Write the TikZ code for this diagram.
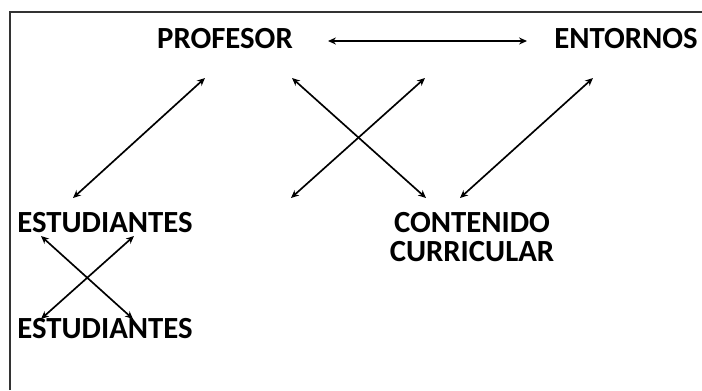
\documentclass[tikz,border=0pt]{standalone}
\usepackage{fontspec}
\setmainfont{Carlito}
\usetikzlibrary{arrows.meta, positioning}
\tikzset{
	actor/.style={font=\fontsize{17.5}{16}\selectfont\bfseries, inner sep=0pt, align=center},
	link/.style={{Stealth[length=4.5pt,width=4pt]}-{Stealth[length=4.5pt,width=4pt]}, line width=0.95pt}
}

\begin{document}
\begin{tikzpicture}[x=0.02cm, y=-0.02cm]
	\useasboundingbox (0,0) rectangle (702,390);
	\draw[line width=1.1pt, black!80] (10,390) -- (10,12) -- (702,12);
	% actors
	\node[actor] (prof) at (225,39) {PROFESOR};
	\node[actor] (ent) at (626,39) {ENTORNOS};
	\node[actor] (est1) at (105,223) {ESTUDIANTES};
	\node[actor] (cont) at (472,237) {CONTENIDO\\CURRICULAR};
	\node[actor] (est2) at (105,329) {ESTUDIANTES};
	% arrow ends
	\coordinate (a1) at (328,41); \coordinate (a2) at (527,41);
	\coordinate (b1) at (205,78); \coordinate (b2) at (73,198);
	\coordinate (c1) at (292,78); \coordinate (c2) at (426,198);
	\coordinate (d1) at (425,78); \coordinate (d2) at (291,198);
	\coordinate (e1) at (593,78); \coordinate (e2) at (460,198);
	\coordinate (f1) at (41,236); \coordinate (f2) at (133,319);
	\coordinate (g1) at (134,236); \coordinate (g2) at (41,319);
	\draw[link] (a1) -- (a2);
	\draw[link] (b1) -- (b2);
	\draw[link] (c1) -- (c2);
	\draw[link] (d1) -- (d2);
	\draw[link] (e1) -- (e2);
	\draw[link] (f1) -- (f2);
	\draw[link] (g1) -- (g2);
\end{tikzpicture}
\end{document}
